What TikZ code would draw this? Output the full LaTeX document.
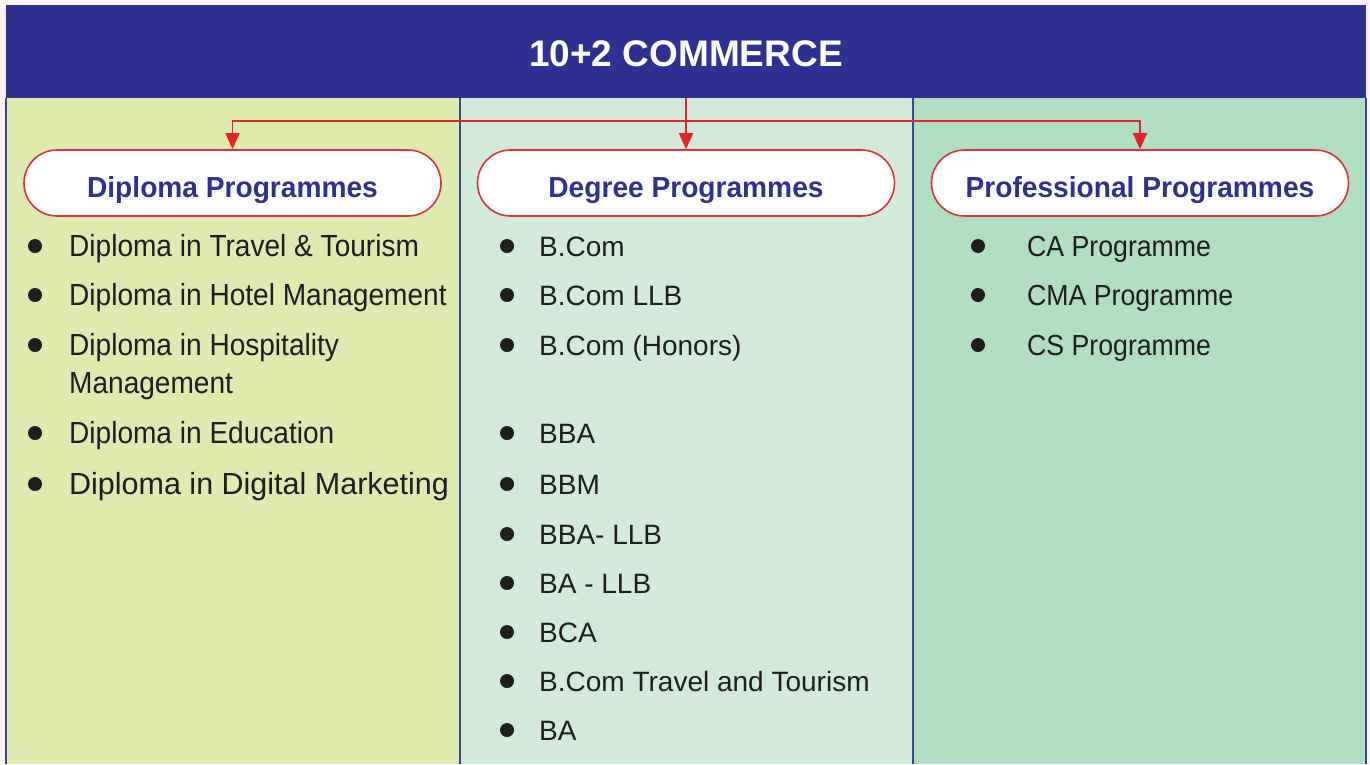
\documentclass[tikz,border=0pt]{standalone}
\usepackage{fontspec}
\setmainfont{Liberation Sans}
\newfontfamily\itemA[FakeStretch=0.92]{Liberation Sans}
\newfontfamily\itemC[FakeStretch=0.92]{Liberation Sans}
\newfontfamily\titlef[FakeStretch=0.97]{Liberation Sans}
\usetikzlibrary{arrows.meta}
\definecolor{hdr}{HTML}{2E3192}
\definecolor{colA}{HTML}{DEEAAE}
\definecolor{colB}{HTML}{D3EADA}
\definecolor{colC}{HTML}{B0DEC0}
\definecolor{pagebg}{HTML}{FCF1F4}
\definecolor{conn}{HTML}{E3242B}
\definecolor{boxline}{HTML}{D8333A}
\definecolor{divline}{HTML}{3B4596}
\definecolor{itemtxt}{HTML}{1E1E1E}
\tikzset{
  hdrbox/.style={fill=hdr, text=white, minimum width=1360pt, minimum height=93pt,
    inner sep=0pt, font=\fontsize{37}{40}\selectfont\bfseries, text height=29pt, text depth=0pt},
  pbox/.style={draw=boxline, line width=1.6pt, fill=white, rounded corners=33pt,
    minimum width=417pt, minimum height=66pt, inner sep=0pt, text=hdr,
    font=\titlef\fontsize{29}{32}\selectfont\bfseries, text height=28pt, text depth=0pt},
  connector/.style={draw=conn, line width=1.8pt, -{Triangle[length=16pt,width=14pt]}},
  divider/.style={draw=divline, line width=1.5pt},
  bul/.style={circle, fill=itemtxt, minimum size=14pt, inner sep=0pt},
  itemAf/.style={anchor=base west, inner sep=0pt, text=itemtxt, font=\itemA\fontsize{30.5}{36}\selectfont},
  itemAlast/.style={anchor=base west, inner sep=0pt, text=itemtxt, font=\fontsize{30.5}{36}\selectfont},
  itemBf/.style={anchor=base west, inner sep=0pt, text=itemtxt, font=\fontsize{28}{34}\selectfont},
  itemCf/.style={anchor=base west, inner sep=0pt, text=itemtxt, font=\itemC\fontsize{29}{34}\selectfont},
}
\begin{document}
\begin{tikzpicture}[x=1pt, y=-1pt]
\useasboundingbox (0,0) rectangle (1370,764);
\fill[pagebg] (0,0) rectangle (1370,764);
% column backgrounds
\fill[colA] (6,98) rectangle (460,764);
\fill[colB] (460,98) rectangle (913,764);
\fill[colC] (913,98) rectangle (1366,764);
\draw[divider] (6,98) -- (6,764);
\draw[divider] (460,98) -- (460,764);
\draw[divider] (913,98) -- (913,764);
\draw[divider] (1366,98) -- (1366,764);
% header
\node[hdrbox] (hdr) at (686,51.5) {10+2 COMMERCE};
% programme boxes
\node[pbox] (dip) at (232.5,183) {Diploma Programmes};
\node[pbox] (deg) at (686,183) {Degree Programmes};
\node[pbox] (pro) at (1140,183) {Professional Programmes};
\coordinate (j) at (686,121);
\draw[connector] (hdr.south) -- (deg.north);
\draw[connector] (j) -| (dip.north);
\draw[connector] (j) -| (pro.north);
% column 1
\foreach \yy/\tt [count=\i] in {256.5/Diploma in Travel \& Tourism, 305.5/Diploma in Hotel Management, 355.5/Diploma in Hospitality, 443.5/Diploma in Education}{
  \node[bul] (ab\i) at (35,\yy-10.5) {};
  \node[itemAf] (at\i) at (69,\yy) {\tt};
}
\node[itemAf] (at3b) at (69,393.5) {Management};
\node[bul] (ab5) at (35,484) {};
\node[itemAlast] (at5) at (69,494.5) {Diploma in Digital Marketing};
% column 2
\foreach \yy/\tt [count=\i] in {256/B.Com, 305/B.Com LLB, 355/B.Com (Honors), 443/BBA, 494/BBM, 544/BBA- LLB, 593/BA - LLB, 642/BCA, 691/B.Com Travel and Tourism, 740/BA}{
  \node[bul] (bb\i) at (507,\yy-10) {};
  \node[itemBf] (bt\i) at (539,\yy) {\tt};
}
% column 3
\foreach \yy/\tt [count=\i] in {256/CA Programme, 305/CMA Programme, 355/CS Programme}{
  \node[bul] (cb\i) at (978,\yy-10) {};
  \node[itemCf] (ct\i) at (1027,\yy) {\tt};
}
\end{tikzpicture}
\end{document}
